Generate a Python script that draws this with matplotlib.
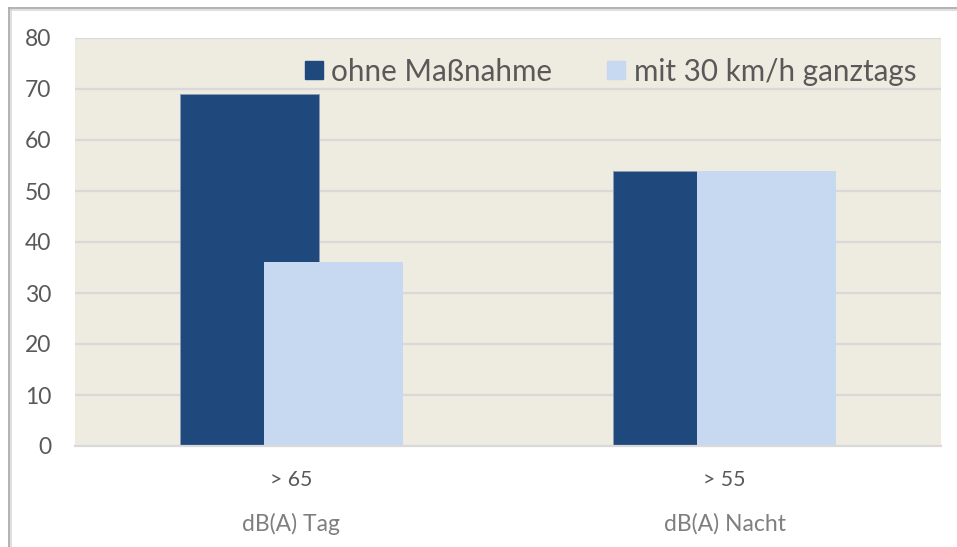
import matplotlib.pyplot as plt
from matplotlib.lines import Line2D
import numpy as np

plt.rcParams["font.family"] = ["Lato", "DejaVu Sans"]

# data
kategorien = ["> 65", "> 55"]
gruppen = ["dB(A) Tag", "dB(A) Nacht"]
ohne_massnahme = [69, 54]
mit_tempo30 = [36, 54]
serien = ["ohne Maßnahme", "mit 30 km/h ganztags"]

DUNKEL = "#1F497D"
HELL = "#C6D9F1"
HINTERGRUND = "#EEEBE0"
GRID = "#D9D9D9"
TEXT = "#595959"

fig = plt.figure(figsize=(9.57, 5.47), dpi=100)
fig.patch.set_facecolor("white")
ax = fig.add_axes([75 / 957, 1 - 446 / 547, 866 / 957, 408 / 547])
ax.set_facecolor(HINTERGRUND)

x = np.arange(len(kategorien))
breite = 0.323
versatz = 0.097

ax.bar(x - versatz, ohne_massnahme, breite, color=DUNKEL,
       edgecolor="#8C9CB5", linewidth=0.6, zorder=2, label=serien[0])
ax.bar(x + versatz, mit_tempo30, breite, color=HELL,
       linewidth=0, zorder=3, label=serien[1])

ax.set_xlim(-0.5, 1.5)
ax.set_ylim(0, 80)
ax.set_yticks(range(0, 81, 10))
ax.yaxis.grid(True, color=GRID, linewidth=1.6, zorder=1)
ax.set_axisbelow(True)
for s in ["left", "right", "top"]:
    ax.spines[s].set_visible(False)
ax.spines["bottom"].set_color(GRID)
ax.spines["bottom"].set_linewidth(1.6)
ax.spines["bottom"].set_zorder(4)

ax.tick_params(axis="y", length=0, pad=17, labelsize=16.5, labelcolor=TEXT)
ax.set_xticks(x)
ax.set_xticklabels(kategorien)
ax.tick_params(axis="x", length=0, pad=17, labelsize=15.3, labelcolor=TEXT)

# zweite Ebene der Kategorieachse
for xi, g in zip(x, gruppen):
    ax.text(xi, -0.19, g, transform=ax.get_xaxis_transform(),
            ha="center", va="center", fontsize=16.5, color="#7F7F7F")

handles = [Line2D([0], [0], marker="s", linestyle="none", markersize=13,
                  markerfacecolor=c, markeredgecolor=c) for c in (DUNKEL, HELL)]
ax.legend(handles, serien, loc="upper right", bbox_to_anchor=(1.002, 1.017),
          ncol=2, frameon=False, fontsize=21.3, labelcolor=TEXT,
          handletextpad=0.2, columnspacing=1.75, handlelength=0.8)

# Rahmen oben und links
fig.add_artist(Line2D([9 / 957, 1], [1 - 8 / 547] * 2, color="#A6A6A6", linewidth=1.2))
fig.add_artist(Line2D([11 / 957, 1], [1 - 10 / 547] * 2, color="#D9D9D9", linewidth=1.2))
fig.add_artist(Line2D([9 / 957] * 2, [0, 1 - 8 / 547], color="#A6A6A6", linewidth=1.2))
fig.add_artist(Line2D([11 / 957] * 2, [0, 1 - 10 / 547], color="#D9D9D9", linewidth=1.2))

fig.savefig("out.png", dpi=100, facecolor=fig.get_facecolor())
